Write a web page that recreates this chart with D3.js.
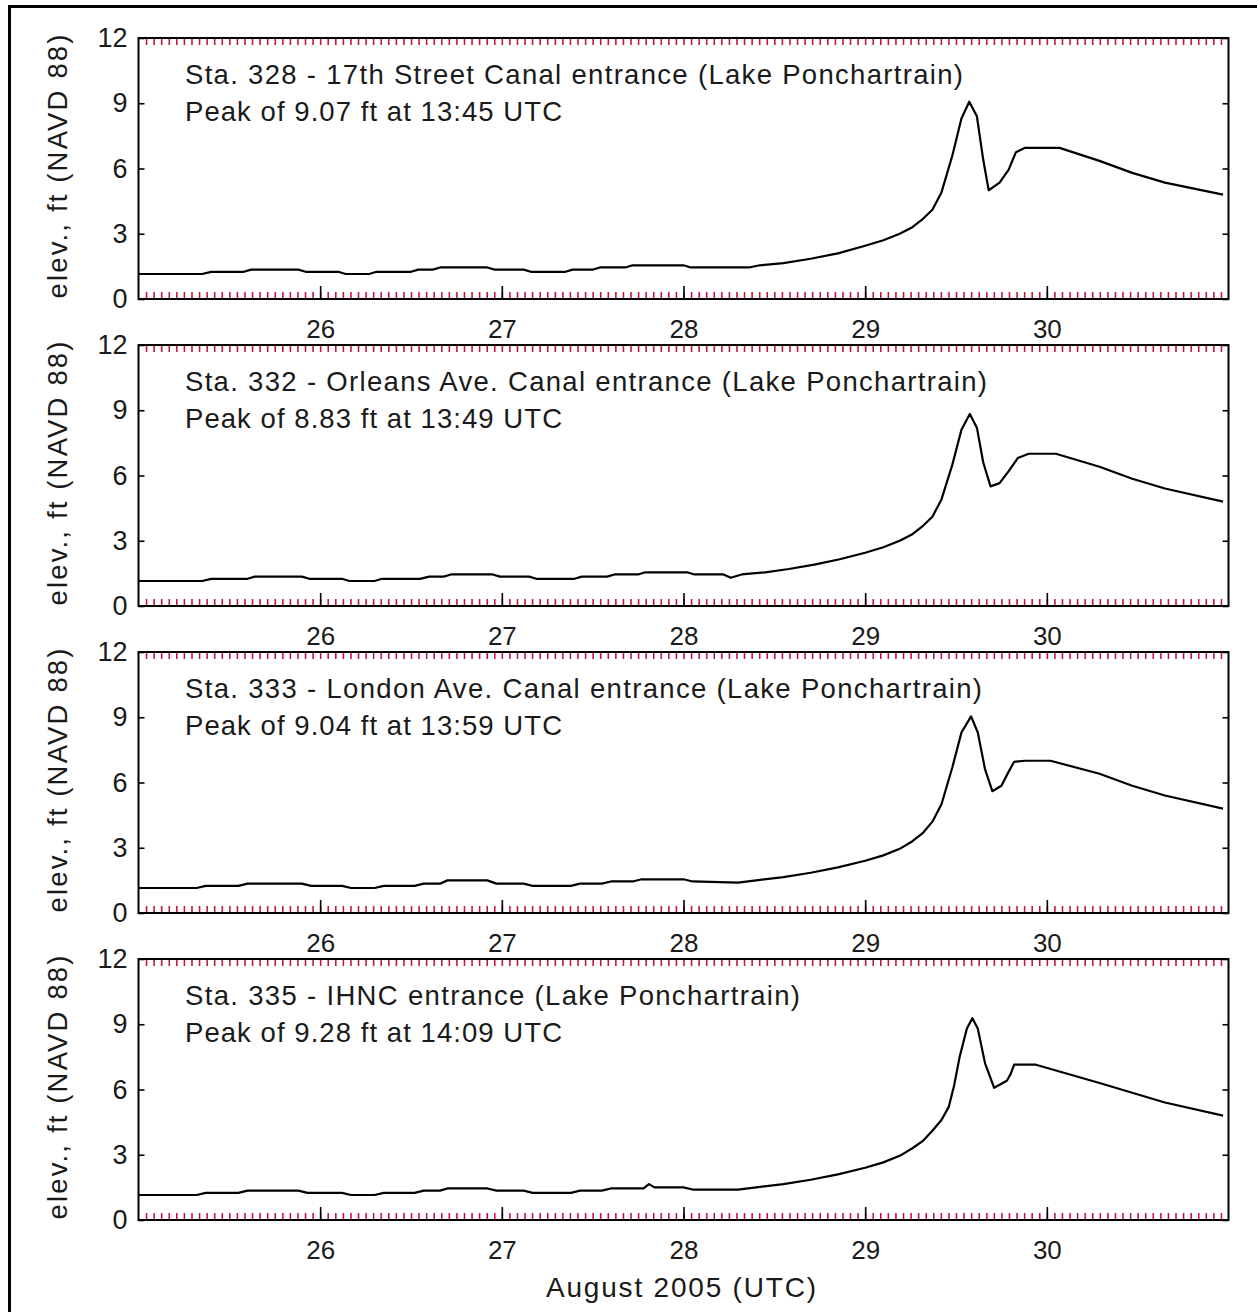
<!DOCTYPE html>
<html>
<head>
<meta charset="utf-8">
<script src="https://cdn.jsdelivr.net/npm/d3@7"></script>
<style>
  html, body { margin: 0; padding: 0; background: #fff; }
  svg { display: block; }
  text { font-family: "Liberation Sans", Arial, sans-serif; fill: #1a1a1a; }
</style>
</head>
<body>
<svg id="chart" width="1257" height="1312"></svg>
<script>
// ---------------- data ----------------
const dayTicks = [26, 27, 28, 29, 30];
const yTickValues = [0, 3, 6, 9, 12];
const stationTitles = [
  "Sta. 328 - 17th Street Canal entrance (Lake Ponchartrain)",
  "Sta. 332 - Orleans Ave. Canal entrance (Lake Ponchartrain)",
  "Sta. 333 - London Ave. Canal entrance (Lake Ponchartrain)",
  "Sta. 335 - IHNC entrance (Lake Ponchartrain)"
];
const peakNotes = [
  "Peak of 9.07 ft at 13:45 UTC",
  "Peak of 8.83 ft at 13:49 UTC",
  "Peak of 9.04 ft at 13:59 UTC",
  "Peak of 9.28 ft at 14:09 UTC"
];
const yLabel = "elev., ft (NAVD 88)";
const xLabel = "August 2005 (UTC)";

// [day of August 2005 (UTC), elevation ft]
const sta328 = [[25.00,1.15],[25.35,1.15],[25.40,1.25],[25.58,1.25],[25.62,1.35],[25.88,1.35],[25.92,1.25],[26.10,1.25],[26.14,1.15],[26.27,1.15],[26.31,1.25],[26.50,1.25],[26.54,1.35],[26.62,1.35],[26.66,1.45],[26.92,1.45],[26.96,1.35],[27.12,1.35],[27.16,1.25],[27.35,1.25],[27.39,1.35],[27.50,1.35],[27.54,1.45],[27.68,1.45],[27.72,1.55],[28.00,1.55],[28.04,1.45],[28.36,1.45],[28.42,1.55],[28.55,1.65],[28.70,1.85],[28.85,2.1],[29.00,2.45],[29.10,2.7],[29.19,3.0],[29.26,3.3],[29.32,3.7],[29.37,4.1],[29.42,4.9],[29.48,6.6],[29.53,8.3],[29.573,9.07],[29.615,8.4],[29.65,6.4],[29.68,5.0],[29.74,5.35],[29.79,5.95],[29.83,6.75],[29.88,6.95],[30.07,6.95],[30.29,6.35],[30.47,5.8],[30.65,5.35],[30.97,4.8]];
const sta332 = [[25.00,1.15],[25.35,1.15],[25.40,1.25],[25.60,1.25],[25.64,1.35],[25.90,1.35],[25.94,1.25],[26.12,1.25],[26.16,1.15],[26.30,1.15],[26.34,1.25],[26.55,1.25],[26.60,1.35],[26.68,1.35],[26.72,1.45],[26.95,1.45],[26.99,1.35],[27.15,1.35],[27.19,1.25],[27.40,1.25],[27.44,1.35],[27.58,1.35],[27.62,1.45],[27.75,1.45],[27.79,1.55],[28.02,1.55],[28.06,1.45],[28.22,1.45],[28.26,1.3],[28.32,1.45],[28.45,1.55],[28.58,1.7],[28.72,1.9],[28.86,2.15],[29.00,2.45],[29.10,2.7],[29.19,3.0],[29.26,3.3],[29.32,3.7],[29.37,4.1],[29.42,4.9],[29.48,6.5],[29.53,8.1],[29.576,8.83],[29.615,8.2],[29.65,6.6],[29.69,5.5],[29.74,5.65],[29.79,6.2],[29.84,6.8],[29.90,7.0],[30.05,7.0],[30.29,6.4],[30.47,5.85],[30.65,5.4],[30.97,4.8]];
const sta333 = [[25.00,1.15],[25.32,1.15],[25.37,1.25],[25.55,1.25],[25.60,1.35],[25.90,1.35],[25.95,1.25],[26.12,1.25],[26.17,1.15],[26.30,1.15],[26.35,1.25],[26.52,1.25],[26.57,1.35],[26.66,1.35],[26.70,1.5],[26.92,1.5],[26.97,1.35],[27.12,1.35],[27.17,1.25],[27.38,1.25],[27.43,1.35],[27.55,1.35],[27.60,1.45],[27.72,1.45],[27.77,1.55],[28.00,1.55],[28.05,1.45],[28.30,1.4],[28.40,1.5],[28.55,1.65],[28.70,1.85],[28.85,2.1],[29.00,2.4],[29.10,2.65],[29.19,2.95],[29.26,3.3],[29.32,3.7],[29.37,4.2],[29.42,5.0],[29.48,6.7],[29.53,8.3],[29.583,9.04],[29.62,8.3],[29.66,6.6],[29.70,5.6],[29.75,5.85],[29.79,6.5],[29.82,6.95],[29.88,7.0],[30.02,7.0],[30.29,6.4],[30.47,5.85],[30.65,5.4],[30.97,4.8]];
const sta335 = [[25.00,1.15],[25.32,1.15],[25.37,1.25],[25.55,1.25],[25.60,1.35],[25.88,1.35],[25.93,1.25],[26.12,1.25],[26.17,1.15],[26.30,1.15],[26.35,1.25],[26.52,1.25],[26.57,1.35],[26.66,1.35],[26.70,1.45],[26.92,1.45],[26.97,1.35],[27.12,1.35],[27.17,1.25],[27.38,1.25],[27.43,1.35],[27.55,1.35],[27.60,1.45],[27.78,1.45],[27.81,1.65],[27.84,1.5],[28.00,1.5],[28.05,1.4],[28.30,1.4],[28.40,1.5],[28.55,1.65],[28.70,1.85],[28.85,2.1],[29.00,2.4],[29.10,2.65],[29.19,2.95],[29.26,3.3],[29.32,3.65],[29.37,4.1],[29.42,4.6],[29.46,5.2],[29.49,6.2],[29.52,7.5],[29.56,8.8],[29.59,9.28],[29.62,8.8],[29.66,7.2],[29.71,6.08],[29.78,6.4],[29.80,6.7],[29.82,7.14],[29.94,7.14],[30.29,6.3],[30.47,5.85],[30.65,5.4],[30.97,4.8]];
const stationSeries = [sta328, sta332, sta333, sta335];

// ---------------- layout ----------------
const W = 1257, H = 1312;
const plotLeft = 138.5, plotRight = 1228.5;
const firstTop = 38, panelStep = 307, panelH = 261;
const titleWidths = [778, 802, 797, 615];
const peakWidth = 377;
const tickRed = "#c4183c";

const svg = d3.select("#chart");
svg.append("rect").attr("width", W).attr("height", H).attr("fill", "#fff");

// outer frame (top and left edges visible)
svg.append("path")
  .attr("d", `M9.5,${H} V6.5 H${W}`)
  .attr("fill", "none").attr("stroke", "#000").attr("stroke-width", 3);

const x = d3.scaleLinear().domain([25, 31]).range([plotLeft, plotRight]);
const hourTicks = d3.range(1, 6 * 24).map(h => 25 + h / 24);

stationSeries.forEach((series, i) => {
  const top = firstTop + i * panelStep;
  const bottom = top + panelH;
  const y = d3.scaleLinear().domain([0, 12]).range([bottom, top]);
  const g = svg.append("g");

  // hourly minor ticks (red), bottom & top
  g.append("g").attr("transform", `translate(0,${bottom})`)
    .call(d3.axisBottom(x).tickValues(hourTicks).tickSize(-7).tickFormat(""))
    .call(a => a.select(".domain").remove())
    .call(a => a.selectAll("line").attr("stroke", tickRed).attr("stroke-width", 1.6));
  g.append("g").attr("transform", `translate(0,${top})`)
    .call(d3.axisTop(x).tickValues(hourTicks).tickSize(-7).tickFormat(""))
    .call(a => a.select(".domain").remove())
    .call(a => a.selectAll("line").attr("stroke", tickRed).attr("stroke-width", 1.6));

  // day major ticks with labels
  g.append("g").attr("transform", `translate(0,${bottom})`)
    .call(d3.axisBottom(x).tickValues(dayTicks).tickSize(-13).tickPadding(21).tickFormat(d3.format("d")))
    .call(a => a.select(".domain").remove())
    .call(a => a.selectAll("line").attr("stroke", "#000").attr("stroke-width", 1.6))
    .call(a => a.selectAll("text").attr("font-size", 26).attr("font-family", null).attr("fill", "#1a1a1a"));

  // left y axis
  g.append("g").attr("transform", `translate(${plotLeft},0)`)
    .call(d3.axisLeft(y).tickValues(yTickValues).tickSize(-6).tickPadding(11).tickFormat(d3.format("d")))
    .call(a => a.select(".domain").remove())
    .call(a => a.selectAll("line").attr("stroke", "#000").attr("stroke-width", 1.6))
    .call(a => a.selectAll("text").attr("font-size", 27).attr("font-family", null).attr("fill", "#1a1a1a"));

  // right y axis (ticks only)
  g.append("g").attr("transform", `translate(${plotRight},0)`)
    .call(d3.axisRight(y).tickValues(yTickValues).tickSize(-6).tickFormat(""))
    .call(a => a.select(".domain").remove())
    .call(a => a.selectAll("line").attr("stroke", "#000").attr("stroke-width", 1.6));

  // frame
  g.append("rect")
    .attr("x", plotLeft).attr("y", top)
    .attr("width", plotRight - plotLeft).attr("height", bottom - top)
    .attr("fill", "none").attr("stroke", "#000").attr("stroke-width", 2);

  // series line
  const line = d3.line().x(d => x(d[0])).y(d => y(d[1]));
  g.append("path").datum(series)
    .attr("d", line)
    .attr("fill", "none").attr("stroke", "#000").attr("stroke-width", 2.2)
    .attr("stroke-linejoin", "round");

  // annotation text
  g.append("text").attr("x", 185).attr("y", top + 46)
    .attr("font-size", 27.5)
    .attr("textLength", titleWidths[i]).attr("lengthAdjust", "spacing")
    .text(stationTitles[i]);
  g.append("text").attr("x", 185).attr("y", top + 83)
    .attr("font-size", 27.5)
    .attr("textLength", peakWidth).attr("lengthAdjust", "spacing")
    .text(peakNotes[i]);

  // y label
  g.append("text")
    .attr("transform", `translate(67,${(top + bottom) / 2 - 2}) rotate(-90)`)
    .attr("text-anchor", "middle")
    .attr("font-size", 27.5)
    .attr("textLength", 264).attr("lengthAdjust", "spacing")
    .text(yLabel);
});

// x label
svg.append("text")
  .attr("x", 681).attr("y", 1297)
  .attr("text-anchor", "middle")
  .attr("font-size", 28)
  .attr("textLength", 270).attr("lengthAdjust", "spacing")
  .text(xLabel);
</script>
</body>
</html>
